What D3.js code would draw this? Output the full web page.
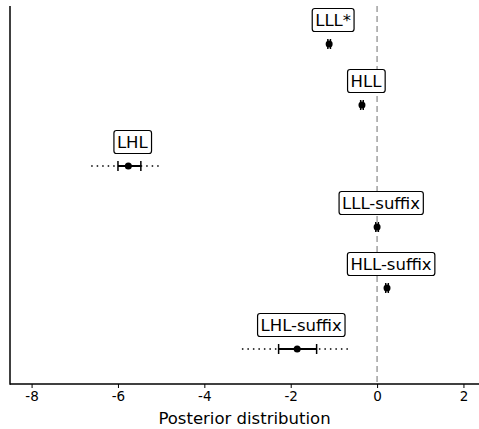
<!DOCTYPE html>
<html><head><meta charset="utf-8">
<script src="https://cdn.jsdelivr.net/npm/d3@7"></script>
<style>body{margin:0;background:#fff;} text{font-family:"DejaVu Sans",sans-serif;}</style>
</head><body>
<svg id="c" width="479" height="429"></svg>
<script>
const categories = ["LLL*", "HLL", "LHL", "LLL-suffix", "HLL-suffix", "LHL-suffix"];
const medians    = [-1.11, -0.35, -5.76, 0.0, 0.23, -1.85];
const innerLo    = [-1.14, -0.38, -6.00, -0.03, 0.20, -2.28];
const innerHi    = [-1.08, -0.32, -5.47, 0.03, 0.26, -1.40];
const outerLo    = [-1.17, -0.41, -6.62, -0.06, 0.17, -3.13];
const outerHi    = [-1.05, -0.29, -5.03, 0.06, 0.29, -0.59];
const xTicks     = [-8, -6, -4, -2, 0, 2];

const svg = d3.select("#c");
const mLeft = 10, mRight = 479, mTop = 6, mBottom = 384;
const x = d3.scaleLinear().domain([-8.5, 2.36]).range([mLeft, mRight]);
const y = d3.scalePoint().domain(categories).range([44, 349]);

// reference line at 0
svg.append("line").attr("x1", x(0)).attr("x2", x(0)).attr("y1", mTop).attr("y2", mBottom)
  .attr("stroke", "#a0a0a0").attr("stroke-width", 1.5).attr("stroke-dasharray", "6,4");

// x axis
const ax = svg.append("g").attr("transform", `translate(0,${mBottom})`)
  .call(d3.axisBottom(x).tickValues(xTicks).tickSize(4).tickPadding(3).tickFormat(d => d));
ax.select(".domain").attr("stroke", "#000").attr("stroke-width", 1.5).attr("d", `M${mLeft},0H${mRight}`);
ax.selectAll(".tick line").attr("stroke", "#000").attr("stroke-width", 1);
ax.selectAll(".tick text").style("font-size", "13.5px").attr("fill", "#000");

// y axis line
svg.append("line").attr("x1", mLeft).attr("x2", mLeft).attr("y1", mTop).attr("y2", mBottom + 0.75)
  .attr("stroke", "#000").attr("stroke-width", 1.5);

svg.append("text").attr("x", (mLeft + mRight) / 2).attr("y", 424).attr("text-anchor", "middle")
  .style("font-size", "16.5px").text("Posterior distribution");

const g = svg.append("g");
categories.forEach((c, i) => {
  const yy = y(c);
  const row = g.append("g");
  row.append("line").attr("x1", x(outerLo[i])).attr("x2", x(outerHi[i])).attr("y1", yy).attr("y2", yy)
    .attr("stroke", "#000").attr("stroke-width", 1.5).attr("stroke-dasharray", "1.5,4");
  row.append("line").attr("x1", x(innerLo[i])).attr("x2", x(innerHi[i])).attr("y1", yy).attr("y2", yy)
    .attr("stroke", "#000").attr("stroke-width", 2);
  [innerLo[i], innerHi[i]].forEach(v => {
    row.append("line").attr("x1", x(v)).attr("x2", x(v)).attr("y1", yy - 5).attr("y2", yy + 5)
      .attr("stroke", "#000").attr("stroke-width", 1.5);
  });
  row.append("circle").attr("cx", x(medians[i])).attr("cy", yy).attr("r", 3.5).attr("fill", "#000");

  const lx = x(medians[i]) + 4, ly = yy - 24;
  const t = row.append("text").attr("x", lx).attr("y", ly).attr("text-anchor", "middle")
    .attr("dominant-baseline", "central").style("font-size", "16.5px").text(c);
  const bb = t.node().getBBox();
  row.insert("rect", "text").attr("x", bb.x - 3).attr("y", ly - 11.5).attr("width", bb.width + 6)
    .attr("height", 23).attr("rx", 2.5).attr("fill", "#fff").attr("stroke", "#000").attr("stroke-width", 1.2);
});
</script>
</body></html>
